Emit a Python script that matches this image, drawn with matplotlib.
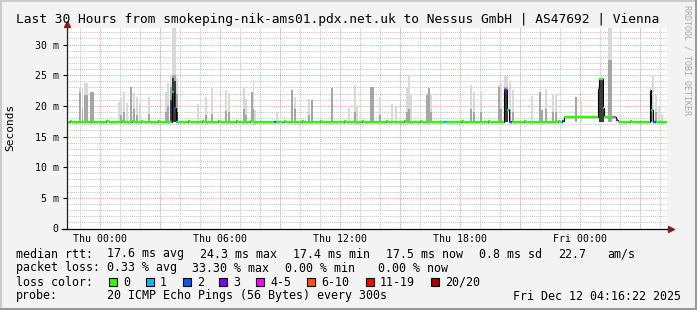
import numpy as np
import matplotlib
matplotlib.use("Agg")
import matplotlib.pyplot as plt
from matplotlib.patches import Rectangle
from matplotlib.lines import Line2D

W, H = 697, 310
MONO = "DejaVu Sans Mono"

title = "Last 30 Hours from smokeping-nik-ams01.pdx.net.uk to Nessus GmbH | AS47692 | Vienna"

# x axis in hours relative to Thu 00:00
x_start, x_end = -1.65, 28.35
tick_hours = [0, 6, 12, 18, 24]
tick_labels = ["Thu 00:00", "Thu 06:00", "Thu 12:00", "Thu 18:00", "Fri 00:00"]

# median rtt (ms) as steps: start hour, value, lost pings
med_t = [-1.65, -1.50, -1.42, -0.45, -0.33, 0.30, 0.45, 1.05, 1.15, 1.60, 1.70,
         2.05, 2.15, 2.90, 3.00, 3.55, 3.62, 3.70, 3.78, 3.90, 4.40, 4.50,
         5.10, 5.20, 5.90, 6.00, 6.80, 6.90, 7.50, 7.60, 8.70, 8.82, 9.20, 9.30,
         10.10, 10.20, 11.00, 11.10, 12.20, 12.30, 13.10, 13.20, 14.30, 14.40,
         15.20, 15.30, 16.00, 16.10, 17.20, 17.35, 18.10, 18.20, 19.40, 19.50,
         20.22, 20.35, 20.43, 20.58, 21.20, 21.30, 22.90, 23.00, 23.12, 23.20,
         24.90, 24.97, 25.13, 25.20, 25.58, 25.68, 25.78, 25.88, 26.50, 26.60,
         27.48, 27.57, 27.65, 27.80]
med_v = [17.4, 17.6, 17.4, 17.6, 17.4, 17.5, 17.4, 17.6, 17.4, 17.6, 17.4,
         17.6, 17.4, 17.6, 17.4, 17.4, 22.2, 19.7, 17.4, 17.4, 17.6, 17.4,
         17.6, 17.4, 17.6, 17.4, 17.6, 17.4, 17.6, 17.4, 17.4, 17.4, 17.6, 17.4,
         17.6, 17.4, 17.6, 17.4, 17.6, 17.4, 17.6, 17.4, 17.6, 17.4,
         17.6, 17.4, 17.6, 17.4, 17.4, 17.4, 17.6, 17.4, 17.6, 17.4,
         22.6, 19.3, 17.4, 17.4, 17.6, 17.4, 17.6, 17.4, 17.6, 18.2,
         22.9, 24.4, 19.7, 18.2, 18.2, 18.2, 17.7, 17.4, 17.6, 17.4,
         22.6, 19.3, 17.4, 17.4]
med_loss = [0, 0, 0, 0, 0, 0, 0, 0, 0, 0, 0,
            0, 0, 0, 0, 1, 1, 2, 1, 0, 0, 0,
            0, 0, 0, 0, 0, 0, 0, 0, 2, 0, 0, 0,
            0, 0, 0, 0, 0, 0, 0, 0, 0, 0,
            0, 0, 0, 0, 1, 0, 0, 0, 0, 0,
            3, 1, 2, 0, 0, 0, 0, 0, 2, 0,
            0, 0, 0, 0, 1, 6, 3, 0, 0, 0,
            0, 1, 2, 0]

# smoke columns: hour, width in 5 min steps, top ping, inner band top, dark band top
smoke_t = [-1.00, -0.88, -0.70, -0.40, 0.95, 1.05, 1.20, 1.35, 1.55, 1.70, 1.85,
           2.00, 2.45, 3.30, 3.40, 3.55, 3.65, 3.75, 3.85, 4.90, 5.30, 5.60,
           6.30, 6.45, 7.20, 7.30, 7.60, 7.68, 7.75, 8.85, 9.60, 9.75, 10.45,
           10.60, 11.60, 12.45, 12.75, 12.85, 13.60, 14.00, 14.60, 14.80, 15.35,
           15.45, 15.55, 16.35, 16.45, 16.55, 18.55, 18.70, 19.05, 19.95, 20.05,
           20.30, 20.50, 20.65, 21.60, 22.00, 22.10, 22.30, 22.65, 22.80, 23.80,
           24.05, 25.05, 25.50, 27.55, 27.65, 27.80, 27.95, 28.10]
smoke_w = [1, 1, 2, 2, 1, 1, 1, 1, 1, 1, 1,
           1, 1, 1, 1, 1, 1, 1, 1, 1, 1, 1,
           1, 1, 1, 1, 1, 1, 1, 1, 1, 1, 1,
           1, 1, 1, 1, 1, 2, 1, 1, 1, 1,
           1, 1, 1, 1, 1, 1, 1, 1, 1, 1,
           2, 1, 1, 1, 1, 1, 1, 1, 1, 1,
           1, 3, 2, 1, 1, 1, 1, 1]
smoke_top = [22.9, 23.1, 23.8, 22.3, 20.7, 21.5, 22.3, 20.5, 23.1, 22.1, 21.4,
             20.4, 21.4, 22.3, 23.7, 25.0, 32.7, 32.7, 24.5, 20.3, 21.5, 22.9,
             22.6, 22.1, 23.1, 21.2, 22.3, 24.2, 19.3, 19.0, 22.6, 21.5, 21.1,
             21.0, 22.9, 19.7, 23.4, 19.8, 23.1, 21.5, 20.3, 20.0, 22.9,
             24.9, 21.8, 22.1, 22.9, 21.9, 23.4, 22.2, 22.2, 23.4, 23.7,
             24.9, 24.0, 22.6, 21.6, 22.3, 19.3, 22.8, 22.0, 22.0, 21.5,
             20.7, 24.5, 32.65, 22.6, 25.0, 21.8, 19.9, 18.5]
smoke_mid = [22.3, 19.5, 21.8, 22.2, 0, 18.5, 19.0, 0, 23.1, 19.5, 18.5,
             0, 18.6, 19.0, 20.0, 23.0, 25.0, 25.0, 22.0, 0, 18.5, 18.6,
             19.1, 19.0, 19.5, 18.5, 22.3, 19.5, 0, 0, 22.6, 19.5, 18.5,
             21.0, 22.9, 0, 19.0, 0, 23.1, 18.5, 0, 0, 19.0,
             19.5, 0, 21.8, 22.9, 19.0, 19.5, 19.0, 19.0, 23.0, 19.5,
             23.0, 19.5, 19.0, 0, 22.3, 19.3, 19.5, 19.0, 19.0, 21.5,
             0, 24.3, 27.5, 22.6, 19.0, 19.0, 0, 0]
smoke_dark = [0, 0, 0, 0, 0, 0, 0, 0, 0, 0, 0,
              0, 0, 0, 0, 21.0, 24.5, 24.0, 19.0, 0, 0, 0,
              0, 0, 0, 0, 0, 0, 0, 0, 0, 0, 0,
              0, 0, 0, 0, 0, 0, 0, 0, 0, 0,
              0, 0, 0, 0, 0, 0, 0, 0, 0, 0,
              22.6, 0, 0, 0, 0, 0, 0, 0, 0, 0,
              0, 24.3, 0, 22.0, 0, 0, 0, 0]
smoke_base = 17.3

loss_labels = ["0", "1", "2", "3", "4-5", "6-10", "11-19", "20/20"]
loss_colors = ["#26ff00", "#00b8ff", "#0059ff", "#7e00ff", "#ff00ff",
               "#ff5500", "#ff0000", "#a10000"]


def loss_color(n):
    if n <= 3:
        return loss_colors[n]
    if n <= 5:
        return loss_colors[4]
    if n <= 10:
        return loss_colors[5]
    if n <= 19:
        return loss_colors[6]
    return loss_colors[7]


def fx(px):
    return px / W


def fy(py):
    return 1 - py / H


fig = plt.figure(figsize=(W / 100, H / 100), dpi=100, facecolor="#f3f3f3")

# frame shading
fig.add_artist(Line2D([0, 1], [fy(0.5), fy(0.5)], color="#cbcbcb", lw=1.5))
fig.add_artist(Line2D([fx(0.5), fx(0.5)], [0, 1], color="#cbcbcb", lw=1.5))
fig.add_artist(Line2D([0, 1], [fy(H - 1), fy(H - 1)], color="#999999", lw=2.2))
fig.add_artist(Line2D([fx(W - 1), fx(W - 1)], [0, 1], color="#999999", lw=2.2))

ax = fig.add_axes([fx(67), fy(228.5), fx(600), (228.5 - 28) / H])
ax.set_facecolor("white")
ax.set_xlim(x_start, x_end)
ax.set_ylim(0, 32.7)

# grid
ax.set_xticks(tick_hours)
ax.set_xticklabels(tick_labels, family=MONO, fontsize=7.1)
ax.set_xticks(np.arange(-1, 29, 1), minor=True)
ax.set_yticks(np.arange(0, 31, 5))
ax.set_yticklabels(["%d m" % v if v else "0" for v in range(0, 31, 5)],
                   family=MONO, fontsize=7.1)
ax.set_yticks(np.arange(0, 33, 1), minor=True)
ax.grid(which="minor", color="#c4c4c4", linestyle=(0, (1, 1)), lw=0.75)
ax.grid(which="major", axis="y", color="#f2a0a0", linestyle=(0, (1, 1)), lw=0.75)
for h in range(0, 29, 3):
    ax.axvline(h, color="#f2a0a0", linestyle=(0, (1, 1)), lw=0.75, zorder=0.5)
ax.set_axisbelow(True)

ax.tick_params(axis="x", which="both", length=0, pad=4)
ax.tick_params(axis="y", which="major", length=3, width=0.8, pad=3)
ax.tick_params(axis="y", which="minor", length=0)
for s in ax.spines.values():
    s.set_visible(False)

# smoke
widths = np.array(smoke_w) / 12.0
ax.bar(smoke_t, np.array(smoke_top) - smoke_base, bottom=smoke_base,
       width=widths, color="#d9d9d9", lw=0, zorder=2)
mid = np.array(smoke_mid)
m = mid > 0
ax.bar(np.array(smoke_t)[m], mid[m] - smoke_base, bottom=smoke_base,
       width=widths[m], color="#a6a6a6", lw=0, zorder=2.1)
dark = np.array(smoke_dark)
d = dark > 0
ax.bar(np.array(smoke_t)[d], dark[d] - smoke_base, bottom=smoke_base,
       width=widths[d], color="#3c3c3c", lw=0, zorder=2.2)

# median line
edges = med_t + [x_end]
ax.step(edges, med_v + [med_v[-1]], where="post", color="black", lw=0.8, zorder=3)
ax.hlines(med_v, med_t, edges[1:], colors=[loss_color(n) for n in med_loss],
          lw=1.7, zorder=4)

# axes lines with arrows
fig.add_artist(Line2D([fx(67), fx(67)], [fy(228.5), fy(24)], color="#202020", lw=0.9))
fig.add_artist(Line2D([fx(62), fx(670)], [fy(228.5), fy(228.5)], color="black", lw=0.9))
fig.add_artist(Line2D([fx(67)], [fy(24)], marker="^", markersize=4.5, color="#8b1a1a"))
fig.add_artist(Line2D([fx(671)], [fy(228.5)], marker=">", markersize=4.5, color="#8b1a1a"))

fig.text(fx(16), fy(19), title, family=MONO, fontsize=9.3, va="center", ha="left")
fig.text(fx(10), fy(127), "Seconds", family=MONO, fontsize=8, rotation=90,
         va="center", ha="center")
fig.text(fx(687), fy(5), "RRDTOOL / TOBI OETIKER", family=MONO, fontsize=6,
         rotation=270, va="top", ha="center", color="#a8a8a8")

LF = 8.4
rows = [
    (254, [(16, "median rtt:"), (107, "17.6 ms avg"), (200, "24.3 ms max"),
           (293, "17.4 ms min"), (386, "17.5 ms now"), (479, "0.8 ms sd"),
           (558, "22.7"), (607, "am/s")]),
    (268, [(16, "packet loss:"), (107, "0.33 % avg"), (192, "33.30 % max"),
           (285, "0.00 % min"), (378, "0.00 % now")]),
    (282, [(16, "loss color:")]),
    (296, [(16, "probe:"), (107, "20 ICMP Echo Pings (56 Bytes) every 300s"),
           (513, "Fri Dec 12 04:16:22 2025")]),
]
for y, items in rows:
    for x, s in items:
        fig.text(fx(x), fy(y), s, family=MONO, fontsize=LF, va="center", ha="left")

box_x = [109, 146, 183, 219, 256, 307, 366, 431]
for bx, lab, col in zip(box_x, loss_labels, loss_colors):
    fig.add_artist(Rectangle((fx(bx), fy(286)), fx(8), 8 / H, facecolor=col,
                             edgecolor="black", lw=0.8))
    fig.text(fx(bx + 14), fy(282), lab, family=MONO, fontsize=LF, va="center", ha="left")

fig.savefig("out.png", dpi=100, facecolor=fig.get_facecolor())
